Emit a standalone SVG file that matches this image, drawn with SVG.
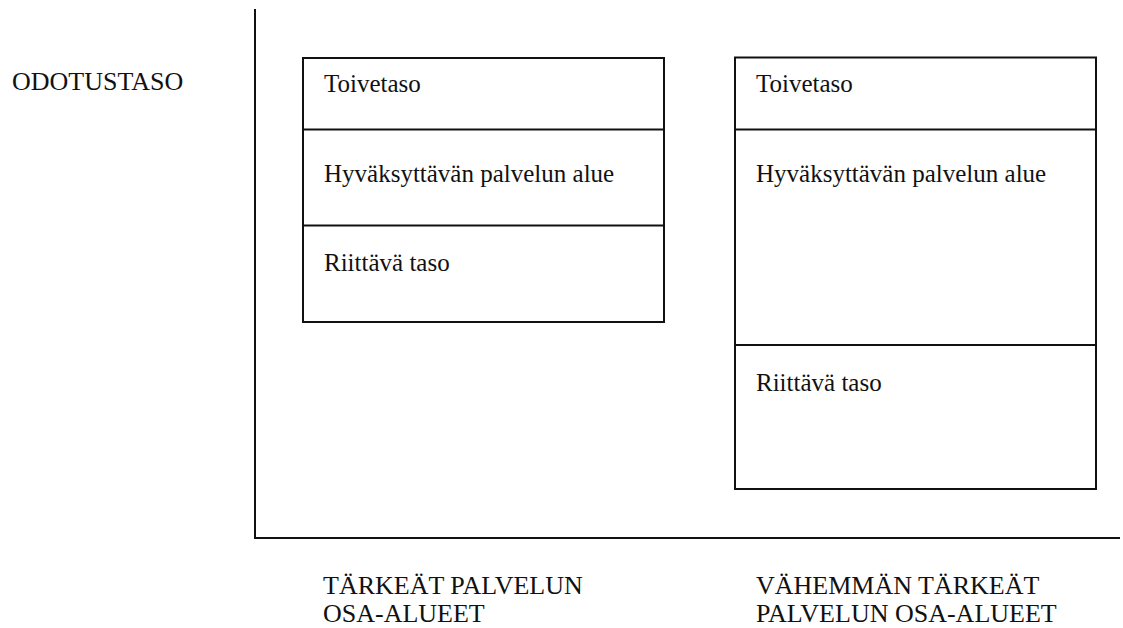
<svg xmlns="http://www.w3.org/2000/svg" width="1123" height="628" viewBox="0 0 1123 628">
  <style>
    text { font-family: 'Liberation Serif', 'Times New Roman', serif; font-size: 25px; fill: #111; }
    .caps { font-size: 26px; }
    .box { fill: #fff; stroke: #111; stroke-width: 2; }
    .sep { stroke: #111; stroke-width: 2; }
    .axis { stroke: #111; stroke-width: 2; fill: none; }
  </style>
  <rect width="1123" height="628" fill="#fff"/>

  <!-- axes -->
  <g id="axes">
    <line class="axis" x1="255" y1="9" x2="255" y2="538"/>
    <line class="axis" x1="254" y1="538" x2="1120" y2="538"/>
  </g>

  <!-- vertical axis label -->
  <g id="y-label">
    <text class="caps" x="12" y="90">ODOTUSTASO</text>
  </g>

  <!-- important service areas -->
  <g id="important">
    <rect class="box" x="303" y="58" width="361" height="264"/>
    <line class="sep" x1="303" y1="129.5" x2="664" y2="129.5"/>
    <line class="sep" x1="303" y1="225.5" x2="664" y2="225.5"/>
    <text x="324" y="92">Toivetaso</text>
    <text x="324" y="182">Hyväksyttävän palvelun alue</text>
    <text x="324" y="271">Riittävä taso</text>
  </g>

  <!-- less important service areas -->
  <g id="less-important">
    <rect class="box" x="735" y="57.5" width="361" height="431.5"/>
    <line class="sep" x1="735" y1="129.5" x2="1096" y2="129.5"/>
    <line class="sep" x1="735" y1="345" x2="1096" y2="345"/>
    <text x="756" y="92">Toivetaso</text>
    <text x="756" y="182">Hyväksyttävän palvelun alue</text>
    <text x="756" y="391">Riittävä taso</text>
  </g>

  <!-- horizontal axis labels -->
  <g id="x-label-important">
    <text class="caps" x="323" y="594">TÄRKEÄT PALVELUN</text>
    <text class="caps" x="323" y="622">OSA-ALUEET</text>
  </g>
  <g id="x-label-less">
    <text class="caps" x="756" y="594">VÄHEMMÄN TÄRKEÄT</text>
    <text class="caps" x="756" y="622">PALVELUN OSA-ALUEET</text>
  </g>
</svg>
